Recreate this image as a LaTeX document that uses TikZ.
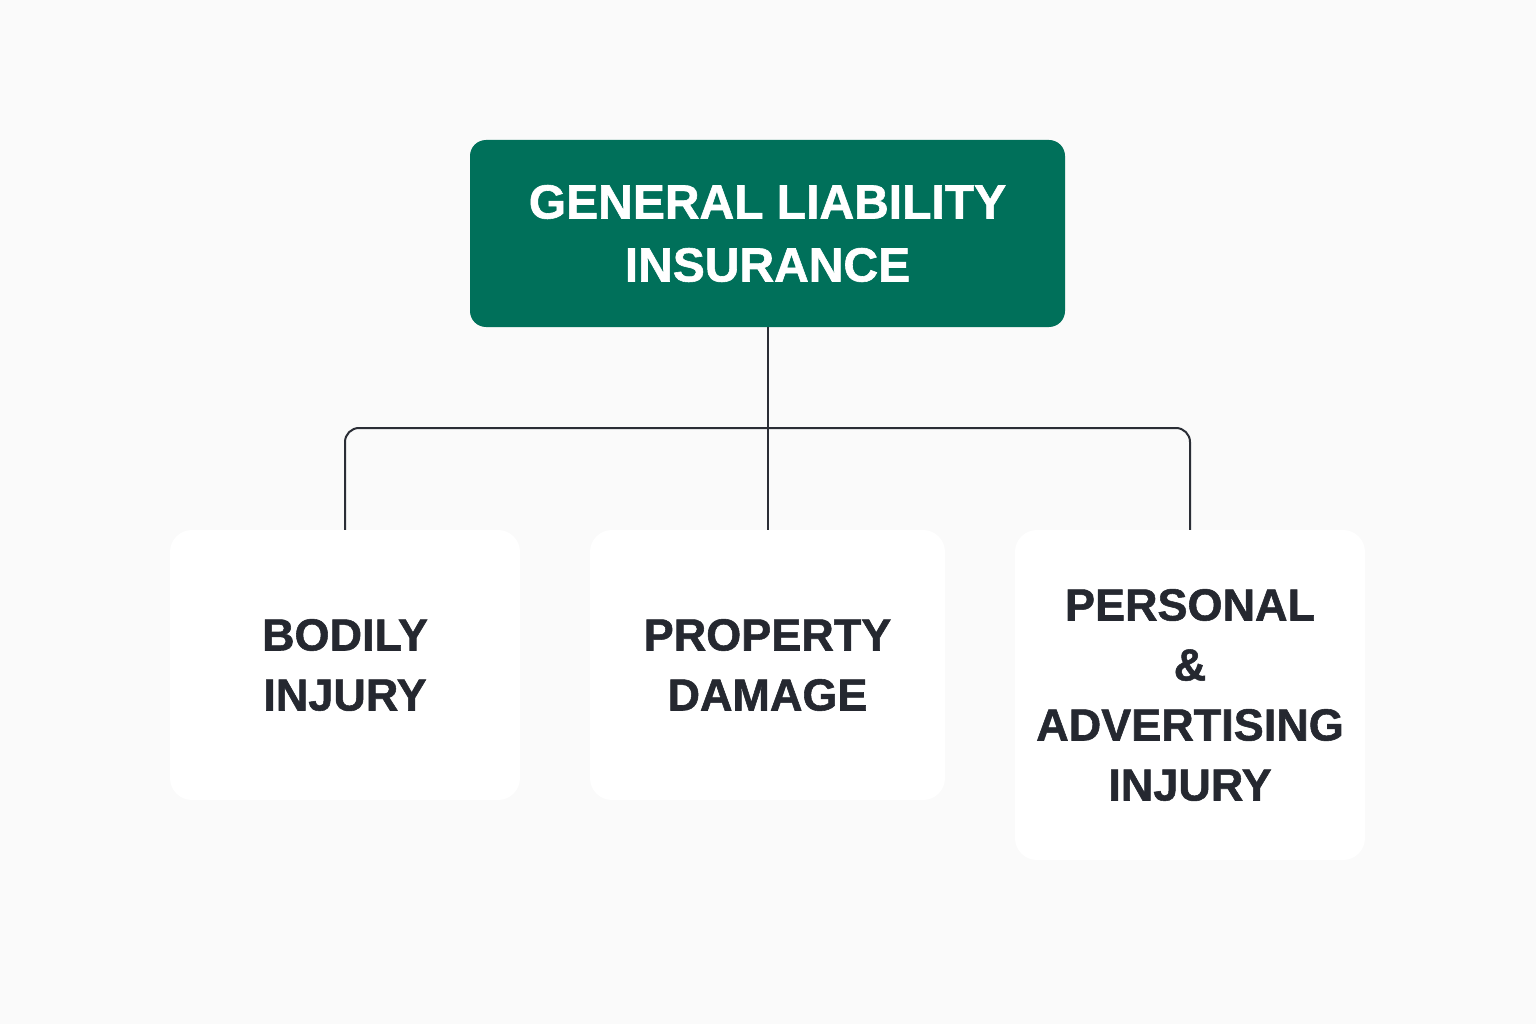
\documentclass[tikz,border=0pt]{standalone}
\usepackage{fontspec}
\setmainfont{Liberation Sans}[FakeBold=1.2]
\definecolor{bg}{HTML}{FAFAFA}
\definecolor{topg}{HTML}{00705A}
\definecolor{txt}{HTML}{252830}
\definecolor{ln}{HTML}{2A2D35}
\begin{document}
\begin{tikzpicture}[x=1pt,y=-1pt,
  topbox/.style={fill=topg,rounded corners=16pt,text=white,align=center,font=\bfseries\fontsize{48}{63}\selectfont},
  childbox/.style={fill=white,rounded corners=22pt,text=txt,align=center,font=\bfseries\fontsize{45}{60}\selectfont},
  conn/.style={draw=ln,line width=2pt,rounded corners=14pt}]
\fill[bg] (0,0) rectangle (1536,1024);
\useasboundingbox (0,0) rectangle (1536,1024);
\node[topbox,minimum width=595pt,minimum height=187pt] (top) at (767.5,233.5) {GENERAL LIABILITY\\INSURANCE};
\node[childbox,minimum width=350pt,minimum height=270pt] (b1) at (345,665) {BODILY\\INJURY};
\node[childbox,minimum width=355pt,minimum height=270pt] (b2) at (767.5,665) {PROPERTY\\DAMAGE};
\node[childbox,minimum width=350pt,minimum height=330pt] (b3) at (1190,695) {PERSONAL\\\&\\ADVERTISING\\INJURY};
\coordinate (j) at (767,428);
\draw[conn] (top.south) -- (b2.north);
\draw[conn] (j) -| (b1.north);
\draw[conn] (j) -| (b3.north);
\end{tikzpicture}
\end{document}
